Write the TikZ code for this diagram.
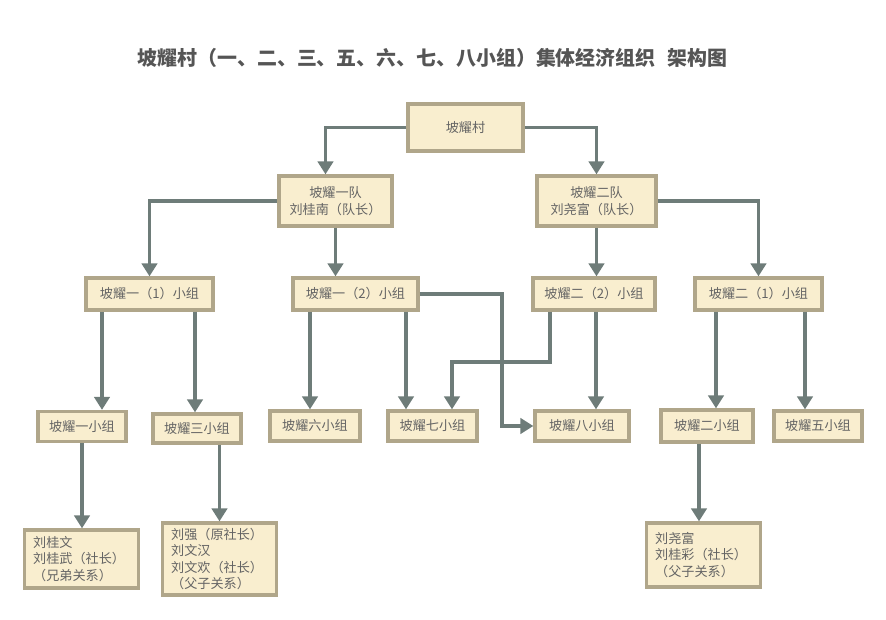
\documentclass[tikz,border=0pt]{standalone}
\usepackage{fontspec}
\setmainfont{Noto Sans CJK SC}
\usepackage{tikz}
\usetikzlibrary{arrows.meta, positioning, calc}
\definecolor{boxline}{RGB}{176,166,138}
\definecolor{boxfill}{RGB}{249,238,207}
\definecolor{wire}{RGB}{110,124,121}
\definecolor{txtgray}{RGB}{100,100,100}
\definecolor{titlegray}{RGB}{85,85,85}
\tikzset{
  block/.style={rectangle, draw=boxline, fill=boxfill,
    line width=2.8pt, inner sep=0pt, align=center, text=txtgray,
    minimum height=0.9cm, font=\fontsize{11.2}{14.5}\selectfont},
  leafblock/.style={block, align=left, text width=2.9cm,
    inner xsep=0.27cm, font=\fontsize{11.2}{14}\selectfont},
  arrow/.style={-{Triangle[length=11pt,width=13pt]}, line width=3.4pt, color=wire},
  line/.style={line width=3.4pt, color=wire}
}

\begin{document}
\begin{tikzpicture}[x=0.03cm, y=-0.03cm]
  \useasboundingbox (0,0) rectangle (886,620);

  % Title
  \node[font=\bfseries\fontsize{17}{20}\selectfont, text=titlegray] (title) at (432.5,58)
    {坡耀村（一、二、三、五、六、七、八小组）集体经济组织\hspace{0.6em}架构图};

  % Village and teams
  \node[block, minimum width=3.45cm, minimum height=1.41cm] (cun) at (465.5,127.5) {坡耀村};
  \node[block, minimum width=3.39cm, minimum height=1.5cm] (dui1) at (335.5,201) {坡耀一队\\刘桂南（队长）};
  \node[block, minimum width=3.57cm, minimum height=1.5cm] (dui2) at (596.5,201) {坡耀二队\\刘尧富（队长）};

  % Groups
  \node[block, minimum width=3.81cm, minimum height=0.96cm] (zu11) at (149.5,294) {坡耀一（1）小组};
  \node[block, minimum width=3.75cm, minimum height=0.96cm] (zu12) at (355.5,294) {坡耀一（2）小组};
  \node[block, minimum width=3.66cm, minimum height=0.96cm] (zu22) at (594,294) {坡耀二（2）小组};
  \node[block, minimum width=3.81cm, minimum height=0.96cm] (zu21) at (758.5,294) {坡耀二（1）小组};

  % Small groups
  \node[block, minimum width=2.64cm] (xz1) at (82,426.5) {坡耀一小组};
  \node[block, minimum width=2.64cm, minimum height=0.87cm] (xz3) at (197,428.5) {坡耀三小组};
  \node[block, minimum width=2.7cm] (xz6) at (315,426) {坡耀六小组};
  \node[block, minimum width=2.67cm] (xz7) at (432.5,426) {坡耀七小组};
  \node[block, minimum width=2.82cm] (xz8) at (582,426) {坡耀八小组};
  \node[block, minimum width=2.76cm, minimum height=0.96cm] (xz2) at (707,426) {坡耀二小组};
  \node[block, minimum width=2.64cm] (xz5) at (818,426) {坡耀五小组};

  % Members
  \node[leafblock, minimum height=1.74cm] (mem1) at (81.5,559) {刘桂文\\刘桂武（社长）\\（兄弟关系）};
  \node[leafblock, minimum height=2.16cm] (mem3) at (219.5,559) {刘强（原社长）\\刘文汉\\刘文欢（社长）\\（父子关系）};
  \node[leafblock, minimum height=1.92cm] (mem2) at (703.5,555) {刘尧富\\刘桂彩（社长）\\（父子关系）};

  % Connections
  \draw[arrow] (cun.west) -| ([shift={(-10,0)}]dui1.north);
  \draw[arrow] (cun.east) -| (dui2.north);
  \draw[arrow] (dui1.west) -| (zu11.north);
  \draw[arrow] (dui1.south) -- (dui1.south |- zu12.north);
  \draw[arrow] (dui2.south) -- (dui2.south |- zu22.north);
  \draw[arrow] (dui2.east) -| (zu21.north);

  \draw[arrow] ([shift={(-47.5,0)}]zu11.south) -- ([shift={(-47.5,0)}]zu11.south |- xz1.north);
  \draw[arrow] ([shift={(45.5,0)}]zu11.south) -- ([shift={(45.5,0)}]zu11.south |- xz3.north);
  \draw[arrow] ([shift={(-45.5,0)}]zu12.south) -- ([shift={(-45.5,0)}]zu12.south |- xz6.north);
  \draw[arrow] ([shift={(50.5,0)}]zu12.south) -- ([shift={(50.5,0)}]zu12.south |- xz7.north);
  \draw[arrow] (zu12.east) -- ++(82,0) |- (xz8.west);
  \draw[arrow] ([shift={(-44,0)}]zu22.south) -- ++(0,50) -| ([shift={(19.5,0)}]xz7.north);
  \draw[arrow] ([shift={(2,0)}]zu22.south) -- ([shift={(2,0)}]zu22.south |- xz8.north);
  \draw[arrow] ([shift={(-42.5,0)}]zu21.south) -- ([shift={(-42.5,0)}]zu21.south |- xz2.north);
  \draw[arrow] ([shift={(46.5,0)}]zu21.south) -- ([shift={(46.5,0)}]zu21.south |- xz5.north);

  \draw[arrow] (xz1.south) -- (xz1.south |- mem1.north);
  \draw[arrow] (xz3.south -| mem3.north) -- (mem3.north);
  \draw[arrow] ([shift={(-8,0)}]xz2.south) -- ([shift={(-8,0)}]xz2.south |- mem2.north);
\end{tikzpicture}
\end{document}
